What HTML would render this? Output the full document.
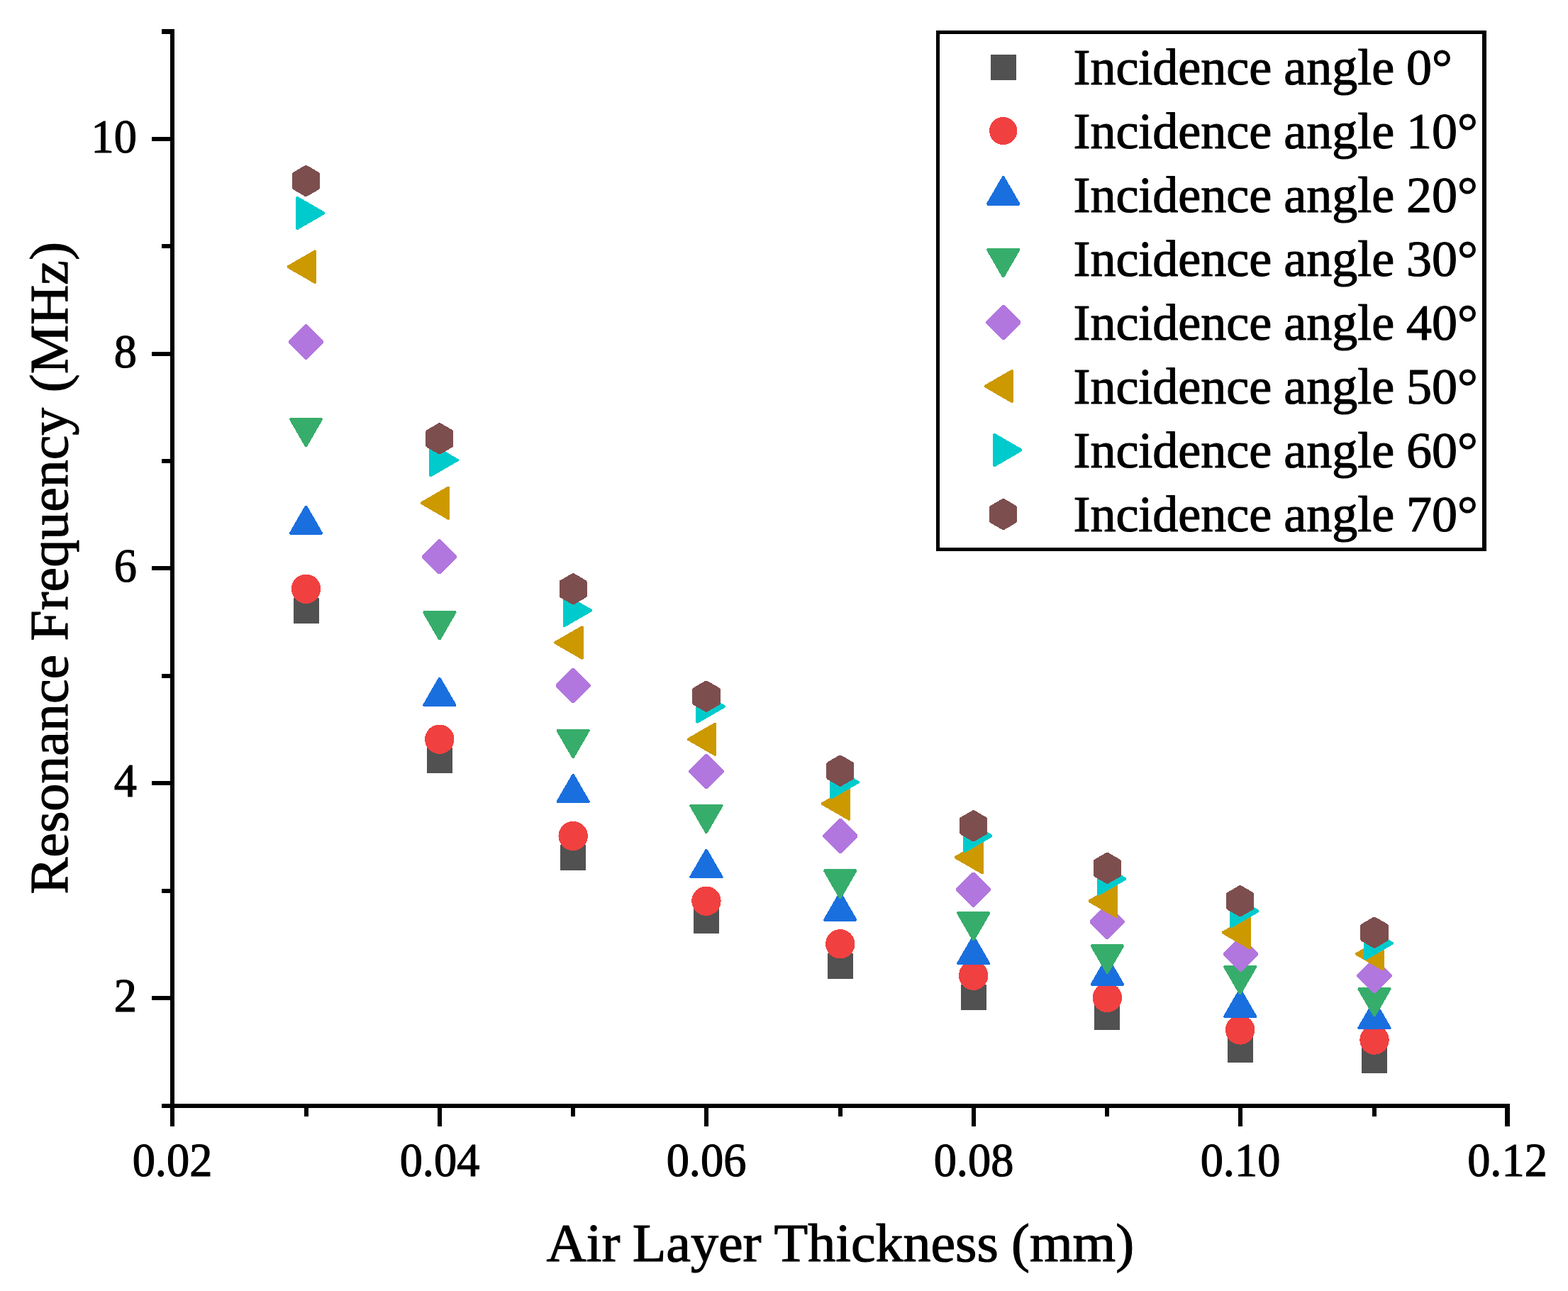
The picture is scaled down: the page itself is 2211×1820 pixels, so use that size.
<!DOCTYPE html>
<html lang="en">
<head>
<meta charset="utf-8">
<title>Resonance Frequency vs Air Layer Thickness</title>
<style>
html,body{margin:0;padding:0;background:#fff;}
body{width:2211px;height:1820px;overflow:hidden;}
svg{display:block;}
text{font-family:"Liberation Serif","Times New Roman",serif;fill:#000;stroke:#000;stroke-width:1.2px;stroke-linejoin:round;}
.tk{font-size:65.5px;}
.lg{font-size:72px;}
.ti{font-size:78px;}
</style>
</head>
<body>
<svg width="2211" height="1820" viewBox="0 0 2211 1820" role="img" aria-label="Scatter plot of resonance frequency versus air layer thickness for incidence angles 0 to 70 degrees">
<rect x="0" y="0" width="2211" height="1820" fill="#fff"/>
<g id="series" stroke-linejoin="bevel" shape-rendering="crispEdges">
<g>
<rect x="414" y="843" width="36" height="36" rx="1" fill="#515151"/>
<rect x="602" y="1054" width="36" height="36" rx="1" fill="#515151"/>
<rect x="790" y="1191" width="36" height="36" rx="1" fill="#515151"/>
<rect x="978" y="1280" width="36" height="36" rx="1" fill="#515151"/>
<rect x="1167" y="1344" width="36" height="36" rx="1" fill="#515151"/>
<rect x="1355" y="1388" width="36" height="36" rx="1" fill="#515151"/>
<rect x="1543" y="1416" width="36" height="36" rx="1" fill="#515151"/>
<rect x="1731" y="1462" width="36" height="36" rx="1" fill="#515151"/>
<rect x="1920" y="1477" width="36" height="36" rx="1" fill="#515151"/>
</g>
<g>
<circle cx="431.51" cy="830.27" r="20.7" fill="#F14040"/>
<circle cx="619.82" cy="1042.2" r="20.7" fill="#F14040"/>
<circle cx="808.13" cy="1178.44" r="20.7" fill="#F14040"/>
<circle cx="995.94" cy="1270.26" r="20.7" fill="#F14040"/>
<circle cx="1184.75" cy="1330.81" r="20.7" fill="#F14040"/>
<circle cx="1372.66" cy="1375.22" r="20.7" fill="#F14040"/>
<circle cx="1561.37" cy="1406.5" r="20.7" fill="#F14040"/>
<circle cx="1748.68" cy="1451.91" r="20.7" fill="#F14040"/>
<circle cx="1937.99" cy="1466.05" r="20.7" fill="#F14040"/>
</g>
<g>
<polygon points="431.51,713.45 454.03,752.45 408.99,752.45" fill="#1A6FDF" stroke="#1A6FDF" stroke-width="3"/>
<polygon points="619.82,955.65 642.34,994.65 597.3,994.65" fill="#1A6FDF" stroke="#1A6FDF" stroke-width="3"/>
<polygon points="808.13,1091.89 830.65,1130.89 785.61,1130.89" fill="#1A6FDF" stroke="#1A6FDF" stroke-width="3"/>
<polygon points="995.94,1197.85 1018.46,1236.85 973.42,1236.85" fill="#1A6FDF" stroke="#1A6FDF" stroke-width="3"/>
<polygon points="1184.75,1258.4 1207.27,1297.4 1162.23,1297.4" fill="#1A6FDF" stroke="#1A6FDF" stroke-width="3"/>
<polygon points="1372.66,1319.95 1395.18,1358.95 1350.14,1358.95" fill="#1A6FDF" stroke="#1A6FDF" stroke-width="3"/>
<polygon points="1561.37,1349.22 1583.89,1388.22 1538.85,1388.22" fill="#1A6FDF" stroke="#1A6FDF" stroke-width="3"/>
<polygon points="1748.68,1394.64 1771.2,1433.64 1726.16,1433.64" fill="#1A6FDF" stroke="#1A6FDF" stroke-width="3"/>
<polygon points="1937.99,1410.77 1960.51,1449.77 1915.47,1449.77" fill="#1A6FDF" stroke="#1A6FDF" stroke-width="3"/>
</g>
<g>
<polygon points="431.51,629.21 408.99,590.21 454.03,590.21" fill="#37AD6B" stroke="#37AD6B" stroke-width="3"/>
<polygon points="619.82,901.69 597.3,862.69 642.34,862.69" fill="#37AD6B" stroke="#37AD6B" stroke-width="3"/>
<polygon points="808.13,1068.2 785.61,1029.2 830.65,1029.2" fill="#37AD6B" stroke="#37AD6B" stroke-width="3"/>
<polygon points="995.94,1174.16 973.42,1135.16 1018.46,1135.16" fill="#37AD6B" stroke="#37AD6B" stroke-width="3"/>
<polygon points="1184.75,1265.99 1162.23,1226.99 1207.27,1226.99" fill="#37AD6B" stroke="#37AD6B" stroke-width="3"/>
<polygon points="1372.66,1325.54 1350.14,1286.54 1395.18,1286.54" fill="#37AD6B" stroke="#37AD6B" stroke-width="3"/>
<polygon points="1561.37,1371.95 1538.85,1332.95 1583.89,1332.95" fill="#37AD6B" stroke="#37AD6B" stroke-width="3"/>
<polygon points="1748.68,1401.22 1726.16,1362.22 1771.2,1362.22" fill="#37AD6B" stroke="#37AD6B" stroke-width="3"/>
<polygon points="1937.99,1432.5 1915.47,1393.5 1960.51,1393.5" fill="#37AD6B" stroke="#37AD6B" stroke-width="3"/>
</g>
<g>
<polygon points="431.51,458.91 454.71,482.11 431.51,505.31 408.31,482.11" fill="#B177DE" stroke="#B177DE" stroke-width="4"/>
<polygon points="619.82,761.66 643.02,784.86 619.82,808.06 596.62,784.86" fill="#B177DE" stroke="#B177DE" stroke-width="4"/>
<polygon points="808.13,943.31 831.33,966.51 808.13,989.71 784.93,966.51" fill="#B177DE" stroke="#B177DE" stroke-width="4"/>
<polygon points="995.94,1064.41 1019.14,1087.61 995.94,1110.81 972.74,1087.61" fill="#B177DE" stroke="#B177DE" stroke-width="4"/>
<polygon points="1184.75,1155.24 1207.95,1178.44 1184.75,1201.64 1161.55,1178.44" fill="#B177DE" stroke="#B177DE" stroke-width="4"/>
<polygon points="1372.66,1230.92 1395.86,1254.12 1372.66,1277.33 1349.46,1254.12" fill="#B177DE" stroke="#B177DE" stroke-width="4"/>
<polygon points="1561.37,1276.34 1584.57,1299.54 1561.37,1322.74 1538.17,1299.54" fill="#B177DE" stroke="#B177DE" stroke-width="4"/>
<polygon points="1749.18,1321.75 1772.38,1344.95 1749.18,1368.15 1725.98,1344.95" fill="#B177DE" stroke="#B177DE" stroke-width="4"/>
<polygon points="1937.99,1352.02 1961.19,1375.22 1937.99,1398.42 1914.79,1375.22" fill="#B177DE" stroke="#B177DE" stroke-width="4"/>
</g>
<g>
<polygon points="405.51,376.15 444.51,353.63 444.51,398.67" fill="#CC9900" stroke="#CC9900" stroke-width="3"/>
<polygon points="593.82,709.18 632.82,686.66 632.82,731.69" fill="#CC9900" stroke="#CC9900" stroke-width="3"/>
<polygon points="782.13,905.96 821.13,883.45 821.13,928.48" fill="#CC9900" stroke="#CC9900" stroke-width="3"/>
<polygon points="969.94,1042.2 1008.94,1019.68 1008.94,1064.72" fill="#CC9900" stroke="#CC9900" stroke-width="3"/>
<polygon points="1158.75,1133.03 1197.75,1110.51 1197.75,1155.54" fill="#CC9900" stroke="#CC9900" stroke-width="3"/>
<polygon points="1346.66,1208.71 1385.66,1186.2 1385.66,1231.23" fill="#CC9900" stroke="#CC9900" stroke-width="3"/>
<polygon points="1535.37,1270.26 1574.37,1247.75 1574.37,1292.78" fill="#CC9900" stroke="#CC9900" stroke-width="3"/>
<polygon points="1723.68,1314.67 1762.68,1292.16 1762.68,1337.19" fill="#CC9900" stroke="#CC9900" stroke-width="3"/>
<polygon points="1911.99,1344.95 1950.99,1322.43 1950.99,1367.47" fill="#CC9900" stroke="#CC9900" stroke-width="3"/>
</g>
<g>
<polygon points="457.51,300.46 418.51,322.98 418.51,277.95" fill="#00CBCC" stroke="#00CBCC" stroke-width="3"/>
<polygon points="645.82,648.62 606.82,671.14 606.82,626.11" fill="#00CBCC" stroke="#00CBCC" stroke-width="3"/>
<polygon points="834.13,860.55 795.13,883.07 795.13,838.03" fill="#00CBCC" stroke="#00CBCC" stroke-width="3"/>
<polygon points="1021.94,995.99 982.94,1018.5 982.94,973.47" fill="#00CBCC" stroke="#00CBCC" stroke-width="3"/>
<polygon points="1210.75,1102.75 1171.75,1125.27 1171.75,1080.23" fill="#00CBCC" stroke="#00CBCC" stroke-width="3"/>
<polygon points="1398.66,1178.44 1359.66,1200.95 1359.66,1155.92" fill="#00CBCC" stroke="#00CBCC" stroke-width="3"/>
<polygon points="1587.37,1238.99 1548.37,1261.5 1548.37,1216.47" fill="#00CBCC" stroke="#00CBCC" stroke-width="3"/>
<polygon points="1774.68,1284.4 1735.68,1306.92 1735.68,1261.88" fill="#00CBCC" stroke="#00CBCC" stroke-width="3"/>
<polygon points="1963.99,1329.81 1924.99,1352.33 1924.99,1307.3" fill="#00CBCC" stroke="#00CBCC" stroke-width="3"/>
</g>
<g>
<polygon points="431.51,234.75 449.09,244.9 449.09,265.2 431.51,275.35 413.93,265.2 413.93,244.9" fill="#7D4E4E" stroke="#7D4E4E" stroke-width="4"/>
<polygon points="619.82,598.05 637.4,608.2 637.4,628.5 619.82,638.65 602.24,628.5 602.24,608.2" fill="#7D4E4E" stroke="#7D4E4E" stroke-width="4"/>
<polygon points="808.13,809.98 825.71,820.12 825.71,840.42 808.13,850.57 790.55,840.42 790.55,820.12" fill="#7D4E4E" stroke="#7D4E4E" stroke-width="4"/>
<polygon points="995.94,961.35 1013.52,971.5 1013.52,991.8 995.94,1001.95 978.36,991.8 978.36,971.5" fill="#7D4E4E" stroke="#7D4E4E" stroke-width="4"/>
<polygon points="1184.75,1066.31 1202.33,1076.46 1202.33,1096.76 1184.75,1106.91 1167.17,1096.76 1167.17,1076.46" fill="#7D4E4E" stroke="#7D4E4E" stroke-width="4"/>
<polygon points="1372.66,1144 1390.24,1154.15 1390.24,1174.45 1372.66,1184.6 1355.08,1174.45 1355.08,1154.15" fill="#7D4E4E" stroke="#7D4E4E" stroke-width="4"/>
<polygon points="1561.37,1203.55 1578.95,1213.7 1578.95,1234 1561.37,1244.15 1543.79,1234 1543.79,1213.7" fill="#7D4E4E" stroke="#7D4E4E" stroke-width="4"/>
<polygon points="1748.68,1249.96 1766.26,1260.11 1766.26,1280.41 1748.68,1290.56 1731.1,1280.41 1731.1,1260.11" fill="#7D4E4E" stroke="#7D4E4E" stroke-width="4"/>
<polygon points="1937.99,1294.38 1955.57,1304.52 1955.57,1324.83 1937.99,1334.97 1920.41,1324.83 1920.41,1304.52" fill="#7D4E4E" stroke="#7D4E4E" stroke-width="4"/>
</g>
</g>
<g id="axes" fill="#000" shape-rendering="crispEdges">
<rect x="240" y="41" width="6" height="1547"/>
<rect x="228" y="1556" width="1901" height="6"/>
<rect x="429" y="1559" width="6" height="15"/>
<rect x="617" y="1559" width="6" height="29"/>
<rect x="805" y="1559" width="6" height="15"/>
<rect x="993" y="1559" width="6" height="29"/>
<rect x="1182" y="1559" width="6" height="15"/>
<rect x="1370" y="1559" width="6" height="29"/>
<rect x="1558" y="1559" width="6" height="15"/>
<rect x="1746" y="1559" width="6" height="29"/>
<rect x="1935" y="1559" width="6" height="15"/>
<rect x="2122" y="1559" width="7" height="29"/>
<rect x="214" y="1404" width="29" height="6"/>
<rect x="228" y="1253" width="15" height="6"/>
<rect x="214" y="1101" width="29" height="6"/>
<rect x="228" y="950" width="15" height="6"/>
<rect x="214" y="798" width="29" height="6"/>
<rect x="228" y="647" width="15" height="6"/>
<rect x="214" y="496" width="29" height="6"/>
<rect x="228" y="344" width="15" height="6"/>
<rect x="214" y="193" width="29" height="6"/>
<rect x="228" y="41" width="15" height="7"/>
</g>
<g id="xticklabels">
<text class="tk" transform="translate(243 1658) scale(0.983 1.031)" text-anchor="middle">0.02</text>
<text class="tk" transform="translate(620 1658) scale(0.983 1.031)" text-anchor="middle">0.04</text>
<text class="tk" transform="translate(996 1658) scale(0.983 1.031)" text-anchor="middle">0.06</text>
<text class="tk" transform="translate(1373 1658) scale(0.983 1.031)" text-anchor="middle">0.08</text>
<text class="tk" transform="translate(1749 1658) scale(0.983 1.031)" text-anchor="middle">0.10</text>
<text class="tk" transform="translate(2125.5 1658) scale(0.983 1.031)" text-anchor="middle">0.12</text>
</g>
<g id="yticklabels">
<text class="tk" transform="translate(193 1425.8) scale(0.983 1.031)" text-anchor="end">2</text>
<text class="tk" transform="translate(193 1123.05) scale(0.983 1.031)" text-anchor="end">4</text>
<text class="tk" transform="translate(193 820.3) scale(0.983 1.031)" text-anchor="end">6</text>
<text class="tk" transform="translate(193 517.55) scale(0.983 1.031)" text-anchor="end">8</text>
<text class="tk" transform="translate(193 214.8) scale(0.983 1.031)" text-anchor="end">10</text>
</g>
<g id="xtitle">
<text class="ti" transform="translate(770.4 1777.6) scale(1.0 0.985)"><tspan x="0">Air</tspan> <tspan x="121.3">Layer</tspan> <tspan x="321.2">Thickness</tspan> <tspan x="655.6">(mm)</tspan></text>
</g>
<g id="ytitle">
<text class="ti" transform="translate(94.7 1260.7) rotate(-90) scale(1.0 0.985)"><tspan x="0">Resonance</tspan> <tspan x="356.9">Frequency</tspan> <tspan x="707.4">(MHz)</tspan></text>
</g>
<g id="legend">
<path d="M1320 43H2096V777H1320Z M1325 48V772H2090V48Z" fill="#000" fill-rule="evenodd" shape-rendering="crispEdges"/>
<g stroke-linejoin="bevel" shape-rendering="crispEdges"><rect x="1397" y="77" width="36" height="36" rx="1" fill="#515151"/></g>
<text class="lg" transform="translate(1513.4 119.2)"><tspan x="0">Incidence</tspan> <tspan x="296.9">angle</tspan> <tspan x="469.7">0°</tspan></text>
<g stroke-linejoin="bevel" shape-rendering="crispEdges"><circle cx="1414.7" cy="184.5" r="19.6" fill="#F14040"/></g>
<text class="lg" transform="translate(1513.4 209.2)"><tspan x="0">Incidence</tspan> <tspan x="296.9">angle</tspan> <tspan x="469.7">10°</tspan></text>
<g stroke-linejoin="bevel" shape-rendering="crispEdges"><polygon points="1414.7,249 1437.22,288 1392.18,288" fill="#1A6FDF" stroke="#1A6FDF" stroke-width="3"/></g>
<text class="lg" transform="translate(1513.4 299.2)"><tspan x="0">Incidence</tspan> <tspan x="296.9">angle</tspan> <tspan x="469.7">20°</tspan></text>
<g stroke-linejoin="bevel" shape-rendering="crispEdges"><polygon points="1414.7,390.5 1392.18,351.5 1437.22,351.5" fill="#37AD6B" stroke="#37AD6B" stroke-width="3"/></g>
<text class="lg" transform="translate(1513.4 389.2)"><tspan x="0">Incidence</tspan> <tspan x="296.9">angle</tspan> <tspan x="469.7">30°</tspan></text>
<g stroke-linejoin="bevel" shape-rendering="crispEdges"><polygon points="1414.7,431.3 1437.9,454.5 1414.7,477.7 1391.5,454.5" fill="#B177DE" stroke="#B177DE" stroke-width="4"/></g>
<text class="lg" transform="translate(1513.4 479.2)"><tspan x="0">Incidence</tspan> <tspan x="296.9">angle</tspan> <tspan x="469.7">40°</tspan></text>
<g stroke-linejoin="bevel" shape-rendering="crispEdges"><polygon points="1388.7,544.5 1427.7,521.98 1427.7,567.02" fill="#CC9900" stroke="#CC9900" stroke-width="3"/></g>
<text class="lg" transform="translate(1513.4 569.2)"><tspan x="0">Incidence</tspan> <tspan x="296.9">angle</tspan> <tspan x="469.7">50°</tspan></text>
<g stroke-linejoin="bevel" shape-rendering="crispEdges"><polygon points="1440.7,634.5 1401.7,657.02 1401.7,611.98" fill="#00CBCC" stroke="#00CBCC" stroke-width="3"/></g>
<text class="lg" transform="translate(1513.4 659.2)"><tspan x="0">Incidence</tspan> <tspan x="296.9">angle</tspan> <tspan x="469.7">60°</tspan></text>
<g stroke-linejoin="bevel" shape-rendering="crispEdges"><polygon points="1414.7,704.7 1432.28,714.85 1432.28,735.15 1414.7,745.3 1397.12,735.15 1397.12,714.85" fill="#7D4E4E" stroke="#7D4E4E" stroke-width="4"/></g>
<text class="lg" transform="translate(1513.4 749.2)"><tspan x="0">Incidence</tspan> <tspan x="296.9">angle</tspan> <tspan x="469.7">70°</tspan></text>
</g>
</svg>
</body>
</html>
